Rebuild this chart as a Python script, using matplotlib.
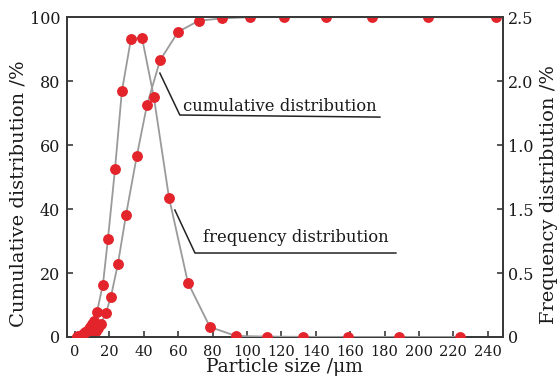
import matplotlib
matplotlib.use("Agg")
import matplotlib.pyplot as plt

plt.rcParams['font.family'] = ['DejaVu Serif']

# Frequency distribution (%), right axis
freq_x = [1, 2, 3, 4, 5, 6, 7, 8, 9, 10, 11, 12.8, 16.3, 19.2, 23.3, 27.3, 32.6, 39,
          45.9, 54.7, 65.7, 78.5, 93.6, 111.6, 132.6, 158.7, 188.4, 224]
freq_pct = [0.003, 0.005, 0.01, 0.018, 0.025, 0.035, 0.048, 0.063, 0.08, 0.10, 0.125,
            0.195, 0.41, 0.765, 1.31, 1.92, 2.33, 2.34, 1.875, 1.09, 0.425, 0.078,
            0.008, 0.003, 0.001, 0.0005, 0, 0]

# Cumulative distribution (%), left axis
cum_x = [1, 2, 3, 4, 5, 6, 7, 8, 9, 10, 11, 12, 13.5, 15.1, 18, 20.9, 25, 29.7, 36,
         41.9, 49.5, 60, 72, 85.5, 101.7, 121.5, 146, 173, 205, 245]
cum_pct = [0.01, 0.03, 0.06, 0.1, 0.2, 0.3, 0.4, 0.6, 0.8, 1.1, 1.5, 2.0, 2.8, 4.0, 7.5,
           12.5, 22.8, 38.1, 56.6, 72.5, 86.5, 95.4, 98.9, 99.6, 100, 100, 100, 100, 100, 100]

x_ticks = list(range(0, 241, 20))
left_ticks = [0, 20, 40, 60, 80, 100]
right_tick_pos = [0, 0.5, 1.0, 1.5, 2.0, 2.5]
right_tick_labels = ["0", "0.5", "1.5", "1.0", "2.0", "2.5"]

line_c = "#9a9a9a"
dot_c = "#e3242b"
spine_c = "#3a3a3a"
text_c = "#1a1a1a"

fig = plt.figure(figsize=(5.6, 3.9), dpi=100)
ax = fig.add_axes([0.1196, 0.136, 0.7784, 0.820])
ax2 = ax.twinx()

ax.plot(cum_x, cum_pct, '-', color=line_c, lw=1.3, marker='o', ms=6.8,
        mfc=dot_c, mec=dot_c, zorder=3, clip_on=True)
ax2.plot(freq_x, freq_pct, '-', color=line_c, lw=1.3, marker='o', ms=6.8,
         mfc=dot_c, mec=dot_c, zorder=3, clip_on=True)

ax.set_xlim(-4.6, 248.8)
ax.set_ylim(0, 100)
ax2.set_ylim(0, 2.5)

ax.set_xticks(x_ticks)
ax.set_yticks(left_ticks)
ax2.set_yticks(right_tick_pos)
ax2.set_yticklabels(right_tick_labels)

for a in (ax, ax2):
    for s in a.spines.values():
        s.set_color(spine_c)
        s.set_linewidth(1.4)
    a.tick_params(direction='in', length=4, width=1.2, color=spine_c,
                  labelsize=11.5, labelcolor=text_c)
ax.tick_params(axis='x', top=False, pad=6, labelsize=10.5)
ax.tick_params(axis='y', right=False, pad=5)
ax2.tick_params(axis='y', pad=4)

ax.set_xlabel("Particle size /μm", fontsize=13.5, labelpad=-1, color=text_c)
ax.set_ylabel("Cumulative distribution /%", fontsize=14, color=text_c)
ax2.set_ylabel("Frequency distribution /%", fontsize=14, color=text_c)
ax.yaxis.set_label_coords(-0.09, 0.447)
ax2.yaxis.set_label_coords(1.085, 0.447)

# Annotations with leader lines
ax.plot([49.4, 61, 177.3], [82.5, 69.4, 68.75], color='#222222', lw=1.1, zorder=4)
ax.text(62.8, 70.6, "cumulative distribution", fontsize=11.8, ha='left', va='baseline',
        color=text_c)
ax.plot([58.1, 69.8, 186.6], [39.7, 26.25, 26.25], color='#222222', lw=1.1, zorder=4)
ax.text(74.4, 29.8, "frequency distribution", fontsize=11.8, ha='left', va='baseline',
        color=text_c)

fig.savefig("out.png", dpi=100)
